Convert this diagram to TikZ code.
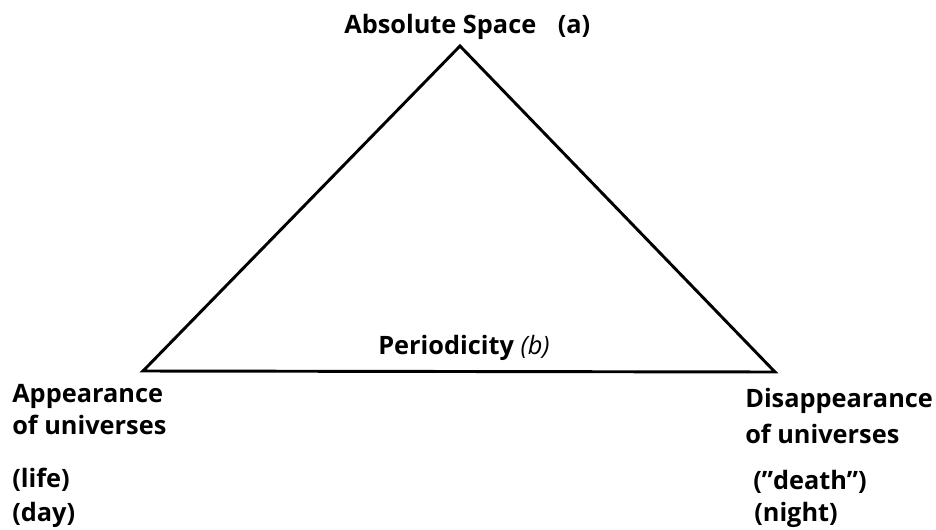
\documentclass[tikz,border=0pt]{standalone}
\usepackage{fontspec}
\setmainfont{Open Sans}
\begin{document}
\begin{tikzpicture}[x=0.75pt,y=-0.75pt,
  lbl/.style={anchor=base west,inner sep=0pt,font=\fontsize{19}{23}\selectfont\bfseries},
  edge/.style={line width=2.2pt,line join=miter,line cap=round}]
\useasboundingbox (0,0) rectangle (936,529);
\coordinate (top) at (460,46);
\coordinate (left) at (143,371);
\coordinate (right) at (775,372);
\draw[edge] (left) -- (top) -- (right) -- cycle;
\node[lbl] (abs) at (344,33) {Absolute Space\hspace{0.85em}(a)};
\node[lbl] (per) at (378,354) {Periodicity {\mdseries\itshape (b)}};
\node[lbl] (app1) at (12,402) {Appearance};
\node[lbl] (app2) at (12,434) {of universes};
\node[lbl] (life) at (12,487) {(life)};
\node[lbl] (day) at (12,521) {(day)};
\node[lbl] (dis1) at (745,407) {Disappearance};
\node[lbl] (dis2) at (745,443) {of universes};
\node[lbl] (death) at (753,489) {(”death”)};
\node[lbl] (night) at (754,521) {(night)};
\end{tikzpicture}
\end{document}
